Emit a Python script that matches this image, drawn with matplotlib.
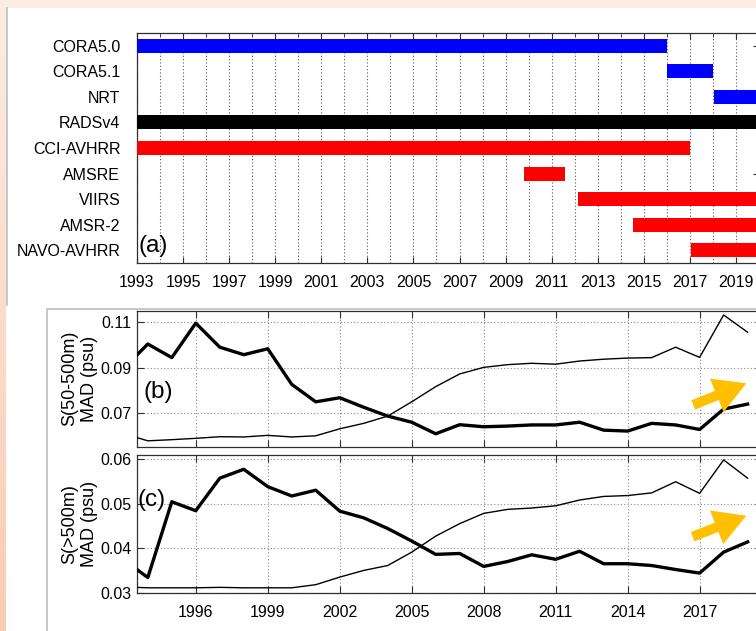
import numpy as np
import matplotlib
matplotlib.use("Agg")
import matplotlib.pyplot as plt
from matplotlib.patches import Rectangle

plt.rcParams["font.family"] = ["Liberation Sans", "DejaVu Sans"]

# ---------------------------------------------
# Data
# ---------------------------------------------
datasets = ["CORA5.0", "CORA5.1", "NRT", "RADSv4", "CCI-AVHRR",
            "AMSRE", "VIIRS", "AMSR-2", "NAVO-AVHRR"]
bar_start = [1993.0, 2016.0, 2018.05, 1993.0, 1993.0, 2009.8, 2012.15, 2014.55, 2017.05]
bar_end = [2016.0, 2018.0, 2020.0, 2020.0, 2017.0, 2011.6, 2020.0, 2020.0, 2020.0]
bar_colors = ["#0000ff", "#0000ff", "#0000ff", "#000000", "#ff0000",
              "#ff0000", "#ff0000", "#ff0000", "#ff0000"]

years = list(range(1993, 2020))

# S(50-500m) MAD (psu)
b_thick = [0.0897, 0.1004, 0.0944, 0.1096, 0.0990, 0.0957, 0.0983, 0.0826, 0.0749,
           0.0767, 0.0725, 0.0686, 0.0659, 0.0608, 0.0648, 0.0639, 0.0642, 0.0647,
           0.0647, 0.0659, 0.0624, 0.0620, 0.0654, 0.0647, 0.0627, 0.0717, 0.0739]
b_thin = [0.0608, 0.0577, 0.0582, 0.0588, 0.0595, 0.0594, 0.0601, 0.0594, 0.0599,
          0.0630, 0.0654, 0.0686, 0.0749, 0.0816, 0.0872, 0.0901, 0.0913, 0.0919,
          0.0915, 0.0929, 0.0937, 0.0942, 0.0944, 0.0990, 0.0945, 0.1132, 0.1056]

# S(>500m) MAD (psu)
c_thick = [0.0374, 0.0334, 0.0504, 0.0484, 0.0557, 0.0577, 0.0538, 0.0517, 0.0530,
           0.0483, 0.0468, 0.0444, 0.0416, 0.0386, 0.0388, 0.0359, 0.0370, 0.0385,
           0.0375, 0.0393, 0.0365, 0.0365, 0.0361, 0.0352, 0.0344, 0.0391, 0.0414]
c_thin = [0.0313, 0.0311, 0.0311, 0.0311, 0.0312, 0.0311, 0.0311, 0.0311, 0.0318,
          0.0335, 0.0350, 0.0361, 0.0391, 0.0427, 0.0455, 0.0478, 0.0487, 0.0490,
          0.0495, 0.0508, 0.0516, 0.0518, 0.0524, 0.0549, 0.0523, 0.0598, 0.0557]

W, H = 756, 631
fig = plt.figure(figsize=(W / 100, H / 100), dpi=100)
fig.patch.set_facecolor("white")

# ---------------------------------------------
# Slide background (peach border + image frames)
# ---------------------------------------------
bg = fig.add_axes([0, 0, 1, 1], zorder=-5)
bg.axis("off")
grad = np.linspace(0, 1, 200)[:, None, None]
top_c = np.array([252, 236, 226]) / 255
bot_c = np.array([250, 204, 178]) / 255
bg.imshow(top_c + grad * (bot_c - top_c), extent=[0, 5.5, H, 0], aspect="auto")
bg.add_patch(Rectangle((0, 0), W, 7.5, color=top_c, lw=0))
bg.plot([6.5, 6.5], [7.5, 305], color="#bdbdbd", lw=1.2)
bg.plot([46.5, 46.5, W], [H, 308.5, 308.5], color="#bdbdbd", lw=1.2)
bg.set_xlim(0, W)
bg.set_ylim(H, 0)

spine_c = "#303030"

# ---------------------------------------------
# (a) dataset availability
# ---------------------------------------------
ax = fig.add_axes([137 / W, 1 - 263 / H, 622 / W, 230 / H])
rows = np.arange(1, len(datasets) + 1)
ax.barh(rows, np.array(bar_end) - np.array(bar_start), left=bar_start,
        height=0.55, color=bar_colors, zorder=3)
ax.set_xlim(1993, 2020)
ax.set_ylim(len(datasets) + 0.5, 0.5)
ax.set_yticks(rows)
ax.set_yticklabels(datasets, fontsize=11.5)
ax.tick_params(axis="y", which="major", length=0, pad=12)
ax.set_yticks([3, 6, 8], minor=True)
ax.tick_params(axis="y", which="minor", length=4, direction="in", left=True)
ax.set_xticks(range(1993, 2021, 2))
ax.set_xticks(range(1993, 2021), minor=True)
ax.tick_params(axis="x", which="major", labelsize=11.5, direction="in", length=4,
               top=True, pad=9)
ax.tick_params(axis="x", which="minor", direction="in", length=3, top=True, bottom=False)
ax.grid(axis="x", which="both", linestyle=(0, (1, 2)), color="#555555", lw=0.8, zorder=0)
for s in ax.spines.values():
    s.set_color(spine_c)
    s.set_linewidth(0.9)
ax.tick_params(colors=spine_c, which="both", labelcolor="black")
sec = ax.secondary_yaxis("right")
sec.set_yticks([1, 6])
sec.tick_params(direction="in", length=4, labelright=False, colors=spine_c)
ax.text(0.003, 0.025, "(a)", transform=ax.transAxes, fontsize=17.5, va="bottom", ha="left")

# ---------------------------------------------
# (b), (c) MAD time series
# ---------------------------------------------
def ts_axes(top_px, bot_px, thick, thin, ylim, yticks, ylabel, tag, tag_xy, arrow):
    a = fig.add_axes([137 / W, 1 - bot_px / H, 625 / W, (bot_px - top_px) / H])
    a.plot(years, thin, color="black", lw=1.0, zorder=3)
    a.plot(years, thick, color="black", lw=2.4, zorder=3)
    a.set_xlim(1993.55, 2019.6)
    a.set_ylim(*ylim)
    a.set_yticks(yticks)
    a.set_yticklabels([f"{t:.2f}" for t in yticks])
    a.set_xticks(range(1996, 2019, 3))
    a.tick_params(direction="in", length=5, top=True, right=True, labelsize=11.5,
                  colors=spine_c, labelcolor="black")
    a.tick_params(axis="x", pad=9)
    a.tick_params(axis="y", pad=4)
    a.grid(True, linestyle=(0, (1, 2)), color="#8a8a8a", lw=0.8, zorder=0)
    for s in a.spines.values():
        s.set_color(spine_c)
        s.set_linewidth(0.9)
    a.set_ylabel(ylabel, fontsize=13, linespacing=1.2)
    a.yaxis.set_label_coords(-0.063, 0.5)
    a.text(tag_xy[0], tag_xy[1], tag, transform=a.transAxes, fontsize=17.5,
           ha="center", va="center")
    a.annotate("", xy=arrow[1], xytext=arrow[0], xycoords="axes fraction",
               textcoords="axes fraction",
               arrowprops=dict(arrowstyle="simple,head_width=1.3,head_length=1.15,tail_width=0.36",
                               color="#ffc000", mutation_scale=20, shrinkA=0, shrinkB=0, lw=0),
               zorder=5)
    return a

ax_b = ts_axes(310.7, 446.7, b_thick, b_thin, (0.0551, 0.1151), [0.07, 0.09, 0.11],
               "S(50-500m)\nMAD (psu)", "(b)", (0.034, 0.40),
               ((0.890, 0.307), (0.975, 0.466)))
ax_b.tick_params(axis="x", labelbottom=False)

ax_c = ts_axes(455.0, 592.7, c_thick, c_thin, (0.03, 0.0609), [0.03, 0.04, 0.05, 0.06],
               "S(>500m)\nMAD (psu)", "(c)", (0.024, 0.67),
               ((0.889, 0.407), (0.975, 0.559)))

fig.savefig("out.png", dpi=100)
